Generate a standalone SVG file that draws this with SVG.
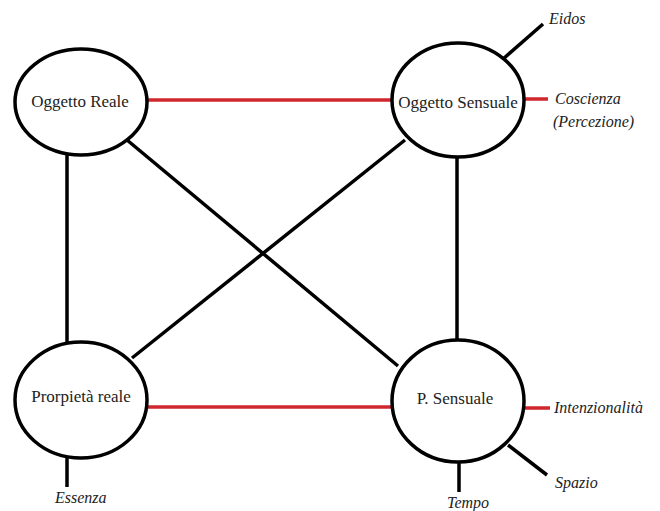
<svg xmlns="http://www.w3.org/2000/svg" width="660" height="511" viewBox="0 0 660 511">
<style>
.node{fill:#fff;stroke:#000;stroke-width:3.5}
.blk{stroke:#000;stroke-width:3.5;fill:none}
.red{stroke:#d0262e;stroke-width:3.5;fill:none}
.lbl{font-size:17px;fill:#222;text-anchor:middle}
.it{font-size:16px;font-style:italic;fill:#222}
</style>
<rect width="660" height="511" fill="#fff"/>
<g id="connectors">
<line class="red" x1="148" y1="100" x2="392" y2="100"/>
<line class="red" x1="148" y1="407" x2="392" y2="407"/>
<line class="blk" x1="67" y1="155" x2="67" y2="343"/>
<line class="blk" x1="457" y1="156" x2="457" y2="341"/>
<line class="blk" x1="127" y1="140" x2="398" y2="366"/>
<line class="blk" x1="405" y1="140" x2="132" y2="358"/>
<line class="blk" x1="503" y1="59" x2="543" y2="24"/>
<line class="red" x1="525" y1="99" x2="548" y2="99"/>
<line class="red" x1="525" y1="408" x2="550" y2="408"/>
<line class="blk" x1="508" y1="445" x2="547" y2="475"/>
<line class="blk" x1="459" y1="461" x2="459" y2="492"/>
<line class="blk" x1="67" y1="457" x2="67" y2="487"/>
</g>
<g font-family="Liberation Serif, DejaVu Serif, serif">
<g id="oggetto-reale">
<ellipse class="node" cx="81" cy="102" rx="66" ry="53"/>
<text class="lbl" x="80" y="107">Oggetto Reale</text>
</g>
<g id="oggetto-sensuale">
<ellipse class="node" cx="458" cy="100" rx="66" ry="57"/>
<text class="lbl" x="458" y="108">Oggetto Sensuale</text>
</g>
<g id="proprieta-reale">
<ellipse class="node" cx="81" cy="400" rx="66" ry="58"/>
<text class="lbl" x="81" y="402">Prorpietà reale</text>
</g>
<g id="p-sensuale">
<ellipse class="node" cx="458" cy="401" rx="66" ry="61"/>
<text class="lbl" x="455" y="404">P. Sensuale</text>
</g>
<g id="labels">
<text class="it" x="549" y="24">Eidos</text>
<text class="it" x="555" y="104">Coscienza</text>
<text class="it" x="553" y="127">(Percezione)</text>
<text class="it" x="554" y="413">Intenzionalità</text>
<text class="it" x="555" y="488">Spazio</text>
<text class="it" x="447" y="508">Tempo</text>
<text class="it" x="55" y="503">Essenza</text>
</g>
</g>
</svg>
